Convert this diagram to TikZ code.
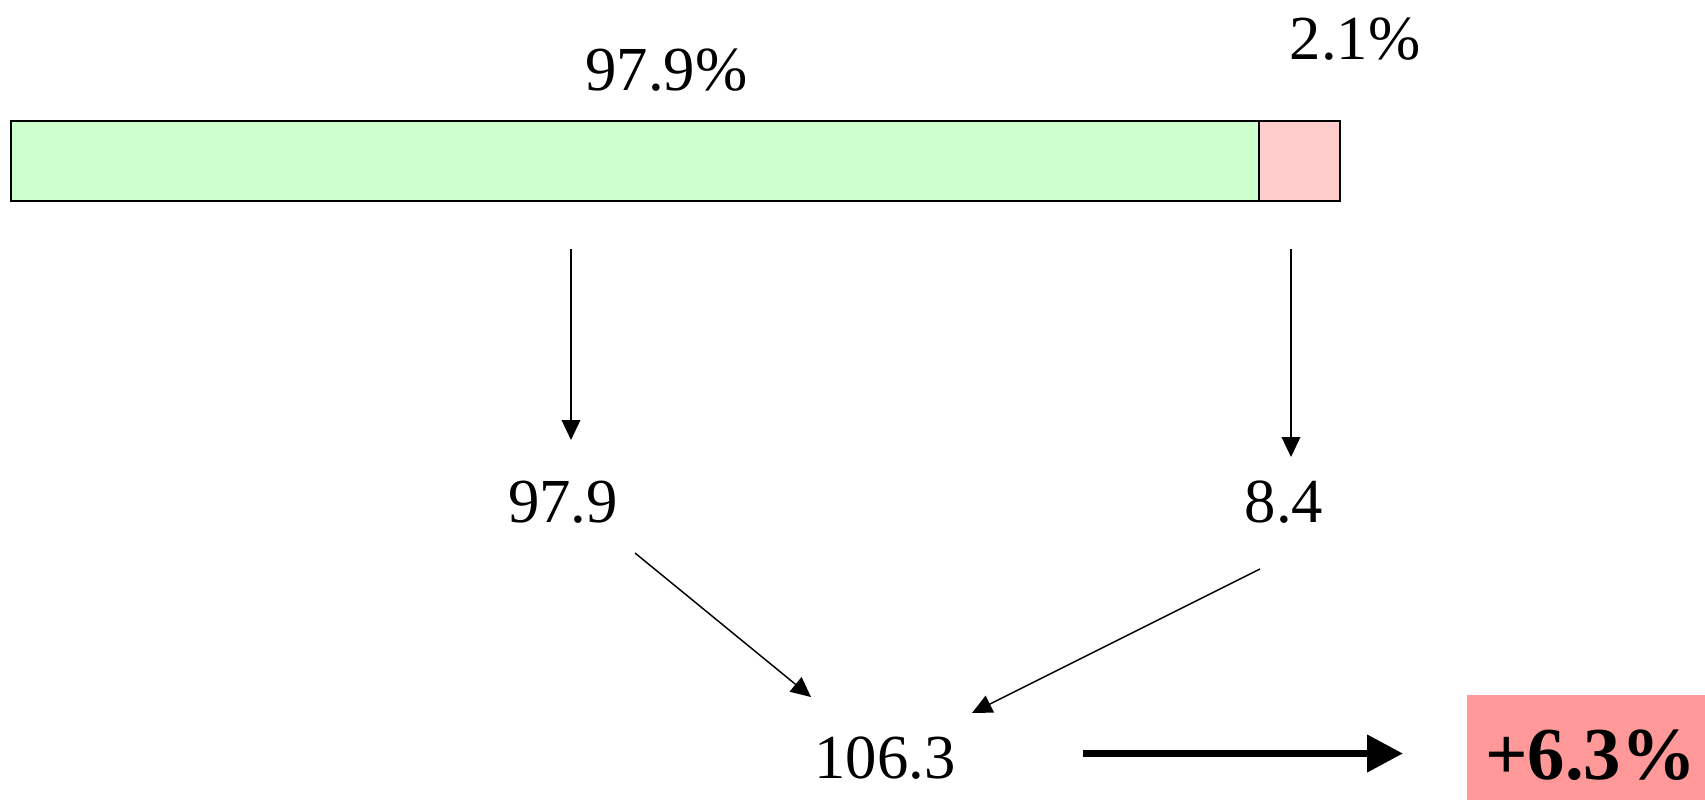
\documentclass[tikz,border=0pt]{standalone}
\usepackage{fontspec}
\setmainfont{Liberation Serif}
\usetikzlibrary{arrows.meta}
\definecolor{segA}{HTML}{CCFFCC}
\definecolor{segB}{HTML}{FFCCCC}
\definecolor{resfill}{HTML}{FF9999}
\begin{document}
\begin{tikzpicture}[x=0.75pt,y=-0.75pt,
  lbl/.style={font=\fontsize{47}{56}\selectfont, inner sep=0pt, anchor=base},
  seg/.style={draw=black, line width=1.1pt, inner sep=0pt, outer sep=0pt, anchor=north west, minimum height=60pt},
  thinarr/.style={line width=1.1pt, -{Triangle[length=15pt,width=14pt]}},
  thickarr/.style={line width=5.6pt, -{Triangle[length=27pt,width=27pt]}}
]
\useasboundingbox (0,0) rectangle (1705,800);
% bar
\node[seg, fill=segA, minimum width=936pt] (green) at (11,121) {};
\node[seg, fill=segB, minimum width=60.75pt] (pink) at (green.north east) {};
% labels
\node[lbl] (p1) at (666.5,90) {97.9\%};
\node[lbl] (p2) at (1355,59) {2.1\%};
\node[lbl] (n1) at (563,522) {97.9};
\node[lbl] (n2) at (1284,522) {8.4};
\node[lbl] (n3) at (885,778) {106.3};
% result box
\node[fill=resfill, inner sep=0pt, outer sep=0pt, anchor=north west, minimum width=178.5pt, minimum height=78.75pt] (resbox) at (1467,695) {};
\node[inner sep=0pt, anchor=base, font=\fontsize{56}{66}\selectfont\bfseries] (res) at (1590.5,779) {+6.3\%};
% connector ends
\coordinate (a1s) at (571,249);
\coordinate (a1e) at (571,440);
\coordinate (a2s) at (1291,249);
\coordinate (a2e) at (1291,457);
\coordinate (d1s) at (635,553);
\coordinate (d1e) at (811,697);
\coordinate (d2s) at (1260,569);
\coordinate (d2e) at (972,713);
\coordinate (ts) at (1083,753.5);
\coordinate (te) at (1403,753.5);
\draw[thinarr] (a1s) -- (a1e);
\draw[thinarr] (a2s) -- (a2e);
\draw[thinarr] (d1s) -- (d1e);
\draw[thinarr] (d2s) -- (d2e);
\draw[thickarr] (ts) -- (te);
\end{tikzpicture}
\end{document}
